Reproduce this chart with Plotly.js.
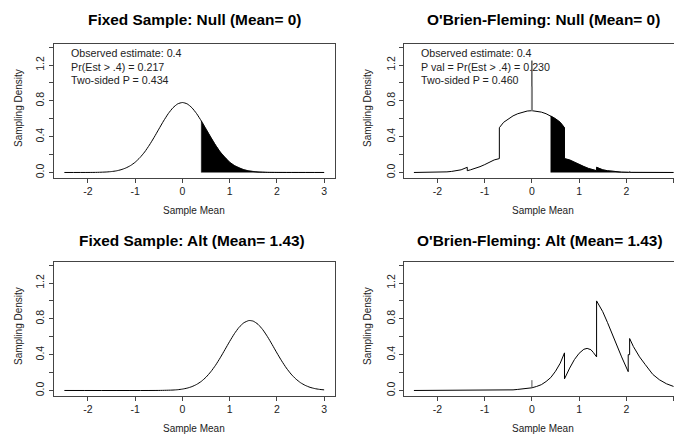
<!DOCTYPE html>
<html>
<head>
<meta charset="utf-8">
<script src="https://cdn.plot.ly/plotly-3.0.1.min.js"></script>
<style>html,body{margin:0;padding:0;background:#fff;}#chart{width:674px;height:436px;}</style>
</head>
<body>
<div id="chart"></div>
<script>
// ---- data ----
const fixedNullX = [-2.5,-2.0,-1.8,-1.6,-1.5,-1.4,-1.3,-1.2,-1.1,-1.0,-0.9,-0.8,-0.7,-0.6,-0.5,-0.4,-0.3,-0.2,-0.1,0,0.1,0.2,0.3,0.4,0.5,0.6,0.7,0.8,0.9,1.0,1.1,1.2,1.3,1.4,1.5,1.6,1.8,2.0,3.0];
const fixedNullY = [0,0.0004,0.0016,0.0058,0.0105,0.018,0.031,0.050,0.077,0.115,0.166,0.229,0.306,0.392,0.484,0.575,0.657,0.723,0.766,0.781,0.766,0.723,0.657,0.575,0.484,0.392,0.306,0.229,0.166,0.115,0.077,0.050,0.031,0.018,0.0105,0.0058,0.0016,0.0004,0];
const fixedNullTailX = [0.4,0.4,0.5,0.6,0.7,0.8,0.9,1.0,1.1,1.2,1.3,1.4,1.5,1.6,1.8,2.0,3.0];
const fixedNullTailY = [0,0.575,0.484,0.392,0.306,0.229,0.166,0.115,0.077,0.050,0.031,0.018,0.0105,0.0058,0.0016,0.0004,0];

const obfNullX = [-2.5,-2.1,-2.06,-2.05,-1.9,-1.8,-1.7,-1.6,-1.5,-1.37,-1.37,-1.3,-1.2,-1.1,-1.0,-0.9,-0.8,-0.69,-0.69,-0.6,-0.5,-0.4,-0.3,-0.2,-0.1,0,0.1,0.2,0.3,0.4,0.5,0.6,0.69,0.69,0.8,0.9,1.0,1.1,1.2,1.3,1.37,1.37,1.5,1.6,1.7,1.8,1.9,2.05,2.06,2.1,2.5,3.0];
const obfNullY = [0,0.001,0.005,0.002,0.004,0.007,0.012,0.02,0.03,0.058,0.02,0.03,0.045,0.065,0.088,0.115,0.14,0.155,0.50,0.56,0.60,0.632,0.656,0.674,0.686,0.69,0.686,0.674,0.656,0.632,0.60,0.56,0.50,0.155,0.14,0.115,0.088,0.065,0.045,0.03,0.02,0.058,0.03,0.02,0.012,0.007,0.004,0.002,0.005,0.001,0,0];
const obfNullTailX = [0.4,0.4,0.5,0.6,0.69,0.69,0.8,0.9,1.0,1.1,1.2,1.3,1.37,1.37,1.5,1.6,1.7,1.8,1.9,2.05,2.06,2.1,2.5,3.0];
const obfNullTailY = [0,0.632,0.60,0.56,0.50,0.155,0.14,0.115,0.088,0.065,0.045,0.03,0.02,0.058,0.03,0.02,0.012,0.007,0.004,0.002,0.005,0.001,0,0];
const obfNullSpikeY = [0.69,1.25];
const obfNullSpikeLowY = [0.69,0.96];

const fixedAltX = [-2.5,-0.5,-0.2,-0.1,0,0.1,0.2,0.3,0.4,0.5,0.6,0.7,0.8,0.9,1.0,1.1,1.2,1.3,1.4,1.43,1.5,1.6,1.7,1.8,1.9,2.0,2.1,2.2,2.3,2.4,2.5,2.6,2.7,2.8,2.9,3.0];
const fixedAltY = [0,0.0006,0.0048,0.0088,0.0156,0.0264,0.0431,0.0677,0.102,0.149,0.209,0.281,0.365,0.456,0.548,0.634,0.706,0.756,0.780,0.781,0.774,0.739,0.679,0.601,0.512,0.419,0.331,0.251,0.183,0.129,0.087,0.057,0.0356,0.0215,0.0125,0.0070];

const obfAltX = [-2.5,-0.6,-0.5,-0.4,-0.3,-0.2,-0.1,0,0.1,0.2,0.3,0.4,0.5,0.6,0.69,0.69,0.8,0.9,1.0,1.1,1.17,1.25,1.3,1.37,1.37,1.5,1.6,1.7,1.8,1.9,2.04,2.04,2.07,2.07,2.15,2.28,2.4,2.56,2.7,2.85,3.0];
const obfAltY = [0,0.002,0.004,0.007,0.012,0.017,0.024,0.03,0.045,0.065,0.10,0.145,0.215,0.305,0.42,0.13,0.25,0.345,0.415,0.46,0.47,0.455,0.425,0.375,1.00,0.88,0.76,0.625,0.495,0.375,0.21,0.40,0.40,0.58,0.49,0.375,0.29,0.18,0.12,0.075,0.045];
const obfAltSpikeY = [0.03,0.115];

const xTickVals = [-2,-1,0,1,2,3];
const xTickText = ['-2','-1','0','1','2','3'];
const yTickVals = [0,0.2,0.4,0.6,0.8,1.0,1.2,1.4];
const yTickText = ['0.0','','0.4','','0.8','','1.2',''];

const titles = ['Fixed Sample: Null (Mean= 0)','O\'Brien-Fleming: Null (Mean= 0)','Fixed Sample: Alt (Mean= 1.43)','O\'Brien-Fleming: Alt (Mean= 1.43)'];
const nullFixedText = ['Observed estimate: 0.4','Pr(Est > .4) = 0.217','Two-sided P = 0.434'];
const nullObfText = ['Observed estimate: 0.4','P val = Pr(Est > .4) = 0.230','Two-sided P = 0.460'];

// ---- build ----
const W = 674, H = 436;
const px = v => v / W;
const py = v => 1 - v / H;
const lineStyle = {color:'#000', width:1};

const traces = [
  {x: fixedNullTailX, y: fixedNullTailY, xaxis:'x', yaxis:'y', mode:'lines', fill:'tozeroy', fillcolor:'#000', line:{color:'#000', width:0.5}, hoverinfo:'skip'},
  {x: fixedNullX, y: fixedNullY, xaxis:'x', yaxis:'y', mode:'lines', line:Object.assign({shape:'spline', smoothing:0.6}, lineStyle)},
  {x: obfNullTailX, y: obfNullTailY, xaxis:'x2', yaxis:'y2', mode:'lines', fill:'tozeroy', fillcolor:'#000', line:{color:'#000', width:0.5}, hoverinfo:'skip'},
  {x: obfNullX, y: obfNullY, xaxis:'x2', yaxis:'y2', mode:'lines', line:lineStyle},
  {x: [0,0], y: obfNullSpikeY, xaxis:'x2', yaxis:'y2', mode:'lines', line:{color:'#000', width:1}},
  {x: [0,0], y: obfNullSpikeLowY, xaxis:'x2', yaxis:'y2', mode:'lines', line:{color:'#888', width:2}},
  {x: fixedAltX, y: fixedAltY, xaxis:'x3', yaxis:'y3', mode:'lines', line:Object.assign({shape:'spline', smoothing:0.6}, lineStyle)},
  {x: obfAltX, y: obfAltY, xaxis:'x4', yaxis:'y4', mode:'lines', line:lineStyle},
  {x: [0,0], y: obfAltSpikeY, xaxis:'x4', yaxis:'y4', mode:'lines', line:{color:'#555', width:1}}
];

const xBase = {
  tickmode:'array', tickvals:xTickVals, ticktext:xTickText, ticks:'outside', ticklen:4, tickwidth:1, tickcolor:'#444',
  showline:true, mirror:true, linecolor:'#444', linewidth:1, showgrid:false, zeroline:false,
  tickfont:{family:'Liberation Sans, Arial, sans-serif', size:10.5, color:'#222'}, automargin:false, fixedrange:true
};
const yBase = {
  tickmode:'array', tickvals:yTickVals, ticktext:yTickText, ticks:'outside', ticklen:4, tickwidth:1, tickcolor:'#444',
  showline:true, mirror:true, linecolor:'#444', linewidth:1, showgrid:false, zeroline:false, tickangle:-90,
  tickfont:{family:'Liberation Sans, Arial, sans-serif', size:10.5, color:'#222'}, automargin:false, fixedrange:true,
  range:[-0.056,1.44]
};
const leftDom = [px(53.5), px(335)];
const rightDom = [px(404), 1];
const topDom = [py(177.5), py(43.5)];
const botDom = [py(395.5), py(261.5)];
const leftRange = [-2.73, 3.23];
const rightRange = [-2.71, 3.01];

const layout = {
  width: W, height: H, margin:{l:0,r:0,t:0,b:0}, showlegend:false,
  paper_bgcolor:'#fff', plot_bgcolor:'#fff',
  xaxis: Object.assign({}, xBase, {domain:leftDom, range:leftRange, anchor:'y'}),
  yaxis: Object.assign({}, yBase, {domain:topDom, anchor:'x'}),
  xaxis2: Object.assign({}, xBase, {domain:rightDom, range:rightRange, anchor:'y2'}),
  yaxis2: Object.assign({}, yBase, {domain:topDom, anchor:'x2'}),
  xaxis3: Object.assign({}, xBase, {domain:leftDom, range:leftRange, anchor:'y3'}),
  yaxis3: Object.assign({}, yBase, {domain:botDom, anchor:'x3'}),
  xaxis4: Object.assign({}, xBase, {domain:rightDom, range:rightRange, anchor:'y4'}),
  yaxis4: Object.assign({}, yBase, {domain:botDom, anchor:'x4'}),
  annotations: []
};

const F = 'Liberation Sans, Arial, sans-serif';
const titlePos = [[194,20],[543,20],[192,241],[540,241]];
titles.forEach((t,i) => layout.annotations.push({
  text:'<b>'+t+'</b>', xref:'paper', yref:'paper', x:px(titlePos[i][0]), y:py(titlePos[i][1]),
  xanchor:'center', yanchor:'middle', showarrow:false, font:{family:F, size:15.4, color:'#000'}
}));
const xlabPos = [[194,210],[543,210],[194,428],[543,428]];
xlabPos.forEach(p => layout.annotations.push({
  text:'Sample Mean', xref:'paper', yref:'paper', x:px(p[0]), y:py(p[1]),
  xanchor:'center', yanchor:'middle', showarrow:false, font:{family:F, size:10, color:'#222'}
}));
const ylabPos = [[18,108],[367,108],[18,326],[367,326]];
ylabPos.forEach(p => layout.annotations.push({
  text:'Sampling Density', xref:'paper', yref:'paper', x:px(p[0]), y:py(p[1]), textangle:-90,
  xanchor:'center', yanchor:'middle', showarrow:false, font:{family:F, size:10, color:'#222'}
}));
const textYs = [53,66.5,80];
nullFixedText.forEach((t,i) => layout.annotations.push({
  text:t, xref:'paper', yref:'paper', x:px(69), y:py(textYs[i]),
  xanchor:'left', yanchor:'middle', showarrow:false, font:{family:F, size:10.7, color:'#222'}
}));
nullObfText.forEach((t,i) => layout.annotations.push({
  text:t, xref:'paper', yref:'paper', x:px(418.5), y:py(textYs[i]),
  xanchor:'left', yanchor:'middle', showarrow:false, font:{family:F, size:10.7, color:'#222'}
}));

Plotly.newPlot('chart', traces, layout, {staticPlot:true, displayModeBar:false});
</script>
</body>
</html>
